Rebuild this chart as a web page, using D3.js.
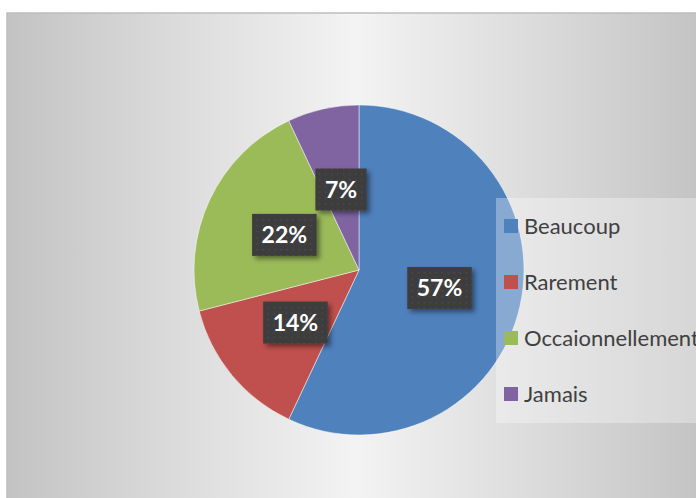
<!DOCTYPE html>
<html>
<head>
<meta charset="utf-8">
<script src="https://cdn.jsdelivr.net/npm/d3@7"></script>
<style>
	html, body { margin: 0; padding: 0; background: #fff; overflow: hidden; }
	svg { display: block; }
</style>
</head>
<body>
<svg id="chart"></svg>
<script>
/*
 * PieChart - share of answers, labels in dark boxes, legend on the right
 */

const categories = ['Beaucoup', 'Rarement', 'Occaionnellement', 'Jamais'];
const values = [57, 14, 22, 7];
const labels = ['57%', '14%', '22%', '7%'];
const colors = ['#4f81bd', '#c0504d', '#9bbb59', '#8064a2'];

class PieChart {

	constructor(chartSelector, options) {
		let defaults = {
			width: 696,
			height: 498,
			center: [359, 270],
			radius: 165,
			legend: { x: 496, y: 198, width: 230, height: 225, rowHeight: 56 },
			font: 'Lato, "Open Sans", sans-serif'
		};
		this.settings = Object.assign({}, defaults, options);
		this.dataset = categories.map((c, i) => ({ name: c, value: values[i], label: labels[i], color: colors[i] }));
		this.chart = d3.select(chartSelector)
			.attr('width', this.settings.width)
			.attr('height', this.settings.height);

		this.createChart();
	}

	/**
	* gradients, patterns and shadows
	* @returns {undefined}
	*/
	_addDefs() {
		let defs = this.chart.append('defs');

		let bg = defs.append('linearGradient')
			.attr('id', 'bg')
			.attr('gradientUnits', 'userSpaceOnUse')
			.attr('x1', 7).attr('x2', 705).attr('y1', 0).attr('y2', 0);
		[[0, '#c3c3c3'], [0.25, '#dcdcdc'], [0.5, '#f3f3f3'], [0.75, '#dcdcdc'], [1, '#c3c3c3']].forEach((s) => {
			bg.append('stop').attr('offset', s[0]).attr('stop-color', s[1]);
		});

		// dotted fill of the data labels
		let dots = defs.append('pattern')
			.attr('id', 'dots')
			.attr('patternUnits', 'userSpaceOnUse')
			.attr('width', 6).attr('height', 6);
		dots.append('rect').attr('width', 6).attr('height', 6).attr('fill', '#3c3c3c');
		dots.append('rect').attr('x', 2).attr('y', 2).attr('width', 1.5).attr('height', 1.5).attr('fill', '#4e4e4e');

		let shadow = defs.append('filter')
			.attr('id', 'shadow')
			.attr('x', '-30%').attr('y', '-30%').attr('width', '170%').attr('height', '170%');
		shadow.append('feDropShadow')
			.attr('dx', 3).attr('dy', 3).attr('stdDeviation', 2.5)
			.attr('flood-color', '#000').attr('flood-opacity', 0.45);
	}

	/**
	* chart area with its gradient and top border
	* @returns {undefined}
	*/
	_addBackground() {
		this.chart.append('rect')
			.attr('x', 7).attr('y', 13)
			.attr('width', 720).attr('height', 500)
			.attr('fill', 'url(#bg)')
			.attr('stroke', '#bdbdbd')
			.attr('stroke-width', 1.5);
	}

	/**
	* the slices, clockwise from twelve o'clock
	* @returns {undefined}
	*/
	_addSlices() {
		let s = this.settings;
		this.arcs = d3.pie().sort(null).value((d) => d.value)(this.dataset);
		this.arc = d3.arc().innerRadius(0).outerRadius(s.radius);

		this.pieGroup = this.chart.append('g')
			.attr('transform', 'translate(' + s.center[0] + ',' + s.center[1] + ')');

		this.pieGroup.selectAll('.slice')
			.data(this.arcs)
			.enter()
			.append('path')
			.attr('class', 'slice')
			.attr('d', this.arc)
			.attr('fill', (d) => d.data.color)
			.attr('stroke', '#fff')
			.attr('stroke-opacity', 0.6)
			.attr('stroke-width', 0.8);
	}

	/**
	* percentage labels in dark boxes at half the radius
	* @returns {undefined}
	*/
	_addLabels() {
		let s = this.settings;
		let group = this.chart.append('g')
			.attr('transform', 'translate(' + s.center[0] + ',' + s.center[1] + ')');

		this.arcs.forEach((d) => {
			let c = this.arc.centroid(d);
			let g = group.append('g').attr('transform', 'translate(' + c[0] + ',' + c[1] + ')');
			let box = g.append('rect').attr('fill', 'url(#dots)').attr('filter', 'url(#shadow)');
			let text = g.append('text')
				.text(d.data.label)
				.attr('text-anchor', 'middle')
				.attr('dy', '0.36em')
				.attr('fill', '#fff')
				.style('font-family', s.font)
				.style('font-weight', 'bold')
				.style('font-size', '23px');
			let w = text.node().getComputedTextLength() + 19;
			box.attr('x', -w / 2).attr('y', -21).attr('width', w).attr('height', 42);
		});
	}

	/**
	* legend box, semi transparent over the pie
	* @returns {undefined}
	*/
	_addLegend() {
		let l = this.settings.legend;
		let legend = this.chart.append('g')
			.attr('transform', 'translate(' + l.x + ',' + l.y + ')');

		legend.append('rect')
			.attr('width', l.width).attr('height', l.height)
			.attr('fill', '#fff').attr('fill-opacity', 0.32);

		let rows = legend.selectAll('.row')
			.data(this.dataset)
			.enter()
			.append('g')
			.attr('class', 'row')
			.attr('transform', (d, i) => 'translate(0,' + (28 + i * l.rowHeight) + ')');

		rows.append('rect')
			.attr('x', 8).attr('y', -7)
			.attr('width', 14).attr('height', 14)
			.attr('fill', (d) => d.color);

		rows.append('text')
			.text((d) => d.name)
			.attr('x', 28)
			.attr('dy', '0.36em')
			.attr('fill', '#404040')
			.style('font-family', this.settings.font)
			.style('font-size', '22px');
	}

	createChart() {
		this._addDefs();
		this._addBackground();
		this._addSlices();
		this._addLegend();
		this._addLabels();
	}
}

new PieChart('#chart');
</script>
</body>
</html>
